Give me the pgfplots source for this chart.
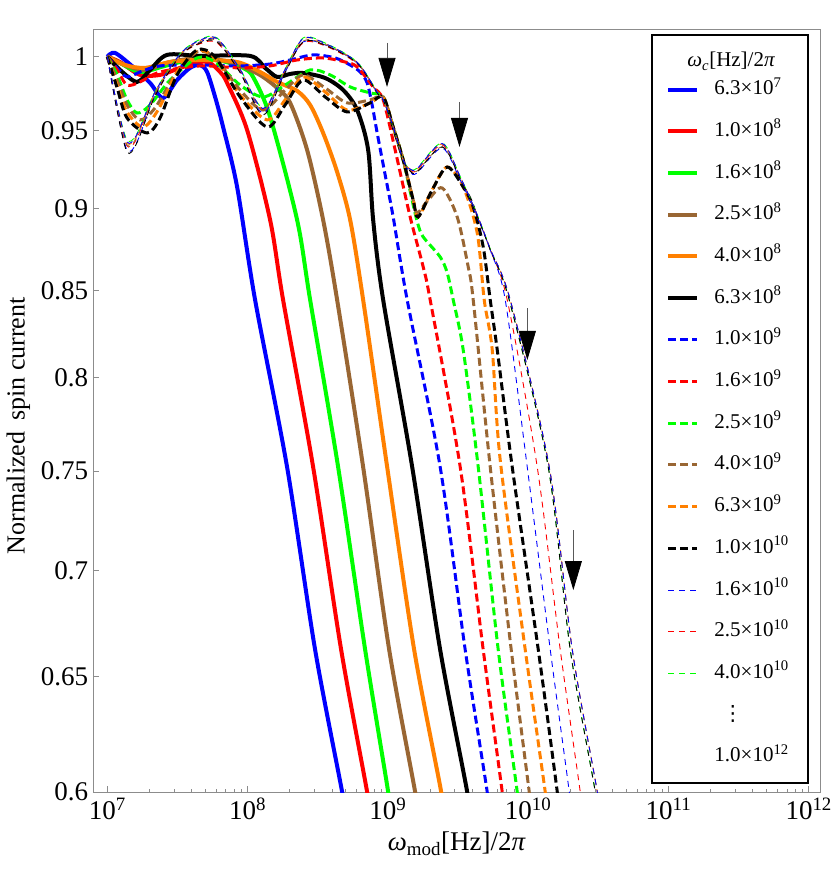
\documentclass[border=0pt]{standalone}
\usepackage{fontspec}
\setmainfont{Liberation Serif}
\newfontfamily\dejavu{DejaVu Sans}
\usepackage{pgfplots}
\pgfplotsset{compat=1.18}
\usetikzlibrary{arrows.meta}
\definecolor{mBlue}{rgb}{0,0,1}
\definecolor{mRed}{rgb}{1,0,0}
\definecolor{mGreen}{rgb}{0,1,0}
\definecolor{mBrown}{rgb}{0.6,0.4,0.2}
\definecolor{mOrange}{rgb}{1,0.5,0}
\pgfplotsset{
 thicksolid/.style={line width=4pt, solid, smooth, tension=0.5},
 thickdash/.style={line width=3pt, dash pattern=on 8pt off 4pt, smooth, tension=0.5},
 thindash/.style={line width=0.9pt, dash pattern=on 6pt off 5pt, smooth, tension=0.5},
}
\begin{document}
\begin{tikzpicture}
\begin{axis}[
 xmode=log, ymode=log,
 scale only axis, width=727pt, height=763pt,
 xmin=7.945e6, xmax=1.21e12,
 ymin=0.6, ymax=1.0194,
 axis line style={draw=gray!90, line width=0.8pt},
 tick style={draw=gray!90, line width=0.8pt},
 major tick length=6pt, minor tick length=3pt,
 tick align=inside, tick pos=left,
 xtick={1e7,1e8,1e9,1e10,1e11,1e12},
 xticklabels={10\textsuperscript{7},10\textsuperscript{8},10\textsuperscript{9},10\textsuperscript{10},10\textsuperscript{11},10\textsuperscript{12}},
 ytick={0.6,0.65,0.7,0.75,0.8,0.85,0.9,0.95,1},
 yticklabels={0.6,0.65,0.7,0.75,0.8,0.85,0.9,0.95,1},
 yminorticks=false,
 ticklabel style={font=\fontsize{27}{32}\selectfont, inner sep=0pt},
 yticklabel style={xshift=-5pt},
 xticklabel style={yshift=-6pt},
 every axis y label/.style={at={(axis description cs:-0.103,0.48)}, rotate=90, anchor=center},
 every axis x label/.style={at={(axis description cs:0.5,-0.068)}, anchor=center},
 ylabel={\fontsize{26}{30}\selectfont Normalized\, spin current},
 xlabel={\fontsize{27}{32}\selectfont \textit{ω}\textsubscript{mod}[Hz]/2\textit{π}},
 legend style={at={(rel axis cs:0.985,0.9935)}, anchor=north east, draw=black, line width=2pt, fill=white,
   font=\fontsize{21}{25}\selectfont, inner xsep=14pt, inner ysep=6pt, row sep=21.7pt, column sep=15pt,
   nodes={inner sep=0pt, text height=15pt, text depth=5pt, text width=80pt}},
 legend cell align=left,
 legend image code/.code={\draw[#1] (0pt,0pt) -- (29pt,0pt);},
]
\addlegendimage{empty legend}
\addlegendentry[text height=12pt]{\hspace*{-27pt}\raisebox{-14pt}[0pt][0pt]{\textit{ω}\textsubscript{\textit{c}}[Hz]/2\textit{π}}}

% 6.3e7
\addplot[thicksolid, mBlue] coordinates {(1e7,1) (1.135e7,1.0026) (1.525e7,0.9929) (2.017e7,0.9819) (2.497e7,0.9717) (3.142e7,0.9839) (3.889e7,0.9922) (4.584e7,0.9942) (5.142e7,0.9894) (5.865e7,0.9724) (6.688e7,0.9523) (8.417e7,0.9135) (1.131e8,0.8445) (1.912e8,0.7520) (3.03e8,0.6623) (4.721e8,0.6) (5.0e8,0.59)};
\addlegendentry{6.3×10\textsuperscript{7}}
% 1.0e8
\addplot[thicksolid, mRed] coordinates {(1e7,1) (1.232e7,0.9963) (1.711e7,0.9874) (2.376e7,0.9874) (3.300e7,0.9922) (4.584e7,0.9963) (5.401e7,0.9956) (6.368e7,0.9894) (7.142e7,0.9819) (9.917e7,0.9504) (1.447e8,0.8928) (1.791e8,0.8445) (2.933e8,0.7520) (4.645e8,0.6623) (7.117e8,0.6) (7.5e8,0.59)};
\addlegendentry{1.0×10\textsuperscript{8}}
% 1.6e8
\addplot[thicksolid, mGreen] coordinates {(1e7,1) (1.232e7,0.9956) (1.711e7,0.9894) (2.579e7,0.9936) (3.889e7,0.9977) (5.865e7,0.9977) (7.503e7,0.9956) (9.288e7,0.9922) (1.094e8,0.9860) (1.447e8,0.9590) (2.254e8,0.8928) (2.792e8,0.8445) (4.420e8,0.7520) (6.889e8,0.6623) (1.005e9,0.6) (1.05e9,0.59)};
\addlegendentry{1.6×10\textsuperscript{8}}
% 2.5e8
\addplot[thicksolid, mBrown] coordinates {(1e7,1) (1.337e7,0.9942) (1.857e7,0.9908) (2.801e7,0.9963) (4.584e7,0.9991) (7.503e7,0.9963) (1.042e8,0.9908) (1.290e8,0.9860) (1.623e8,0.9785) (2.010e8,0.9684) (2.657e8,0.9372) (3.455e8,0.8928) (4.348e8,0.8445) (6.665e8,0.7520) (1.022e9,0.6623) (1.565e9,0.6) (1.65e9,0.59)};
\addlegendentry{2.5×10\textsuperscript{8}}
% 4.0e8
\addplot[thicksolid, mOrange] coordinates {(1e7,1) (1.337e7,0.9942) (1.857e7,0.9922) (2.801e7,0.9963) (4.584e7,0.9977) (8.417e7,0.9963) (1.228e8,0.9894) (1.623e8,0.9826) (2.254e8,0.9765) (2.792e8,0.9670) (3.455e8,0.9484) (4.348e8,0.9230) (5.384e8,0.8928) (6.665e8,0.8445) (9.886e8,0.7520) (1.540e9,0.6623) (2.400e9,0.6) (2.5e9,0.59)};
\addlegendentry{4.0×10\textsuperscript{8}}
% 6.3e8
\addplot[thicksolid, black] coordinates {(1e7,1) (1.232e7,0.9908) (1.628e7,0.9826) (2.017e7,0.9908) (2.666e7,1.0012) (4.584e7,1.0005) (1.042e8,1.0005) (1.333e8,0.9922) (1.623e8,0.9860) (2.010e8,0.9881) (2.488e8,0.9887) (3.571e8,0.9853) (4.799e8,0.9771) (6.039e8,0.9636) (7.236e8,0.9372) (7.855e8,0.8928) (9.259e8,0.8445) (1.491e9,0.7520) (2.360e9,0.6623) (3.678e9,0.6) (3.8e9,0.59)};
\addlegendentry{6.3×10\textsuperscript{8}}
% 1.0e9
\addplot[thickdash, mBlue] coordinates {(1e7,1) (1.175e7,0.9922) (1.382e7,0.9860) (1.711e7,0.9894) (2.376e7,0.9936) (4.584e7,0.9942) (8.842e7,0.9936) (1.447e8,0.9949) (2.010e8,0.9977) (2.933e8,1.0012) (4.208e8,0.9991) (5.384e8,0.9942) (6.345e8,0.9894) (7.117e8,0.9819) (7.727e8,0.9670) (8.389e8,0.9484) (9.566e8,0.9211) (1.091e9,0.8946) (1.373e9,0.8445) (2.360e9,0.7520) (3.559e9,0.6623) (5.108e9,0.6) (5.3e9,0.59)};
\addlegendentry{1.0×10\textsuperscript{9}}
% 1.6e9
\addplot[thickdash, mRed] coordinates {(1e7,1) (1.175e7,0.9908) (1.382e7,0.9805) (1.711e7,0.9826) (2.376e7,0.9894) (4.584e7,0.9936) (8.842e7,0.9922) (1.447e8,0.9936) (2.254e8,0.9977) (3.455e8,0.9991) (4.959e8,0.9963) (6.039e8,0.9929) (7.855e8,0.9792) (9.259e8,0.9704) (1.127e9,0.9372) (1.442e9,0.8946) (1.786e9,0.8641) (2.003e9,0.8445) (3.279e9,0.7520) (4.783e9,0.6623) (6.536e9,0.6) (6.8e9,0.59)};
\addlegendentry{1.6×10\textsuperscript{9}}
% 2.5e9
\addplot[thickdash, mGreen] coordinates {(1e7,1) (1.175e7,0.9874) (1.382e7,0.9704) (1.628e7,0.9616) (2.017e7,0.9670) (2.801e7,0.9839) (4.364e7,0.9991) (5.865e7,0.9963) (8.842e7,0.9805) (1.290e8,0.9724) (1.851e8,0.9805) (2.792e8,0.9908) (3.876e8,0.9874) (5.384e8,0.9792) (7.476e8,0.9751) (9.259e8,0.9724) (1.091e9,0.9523) (1.285e9,0.9308) (1.515e9,0.9021) (1.644e9,0.8897) (1.786e9,0.8823) (2.360e9,0.8701) (2.648e9,0.8605) (2.923e9,0.8445) (3.444e9,0.8157) (4.407e9,0.7520) (6.120e9,0.6623) (8.360e9,0.6) (8.7e9,0.59)};
\addlegendentry{2.5×10\textsuperscript{9}}
% 4.0e9
\addplot[thickdash, mBrown] coordinates {(1e7,1) (1.175e7,0.9839) (1.382e7,0.9670) (1.711e7,0.9570) (2.189e7,0.9650) (3.040e7,0.9874) (4.364e7,1.0033) (5.865e7,0.9991) (8.842e7,0.9771) (1.290e8,0.9636) (1.851e8,0.9771) (2.488e8,0.9874) (3.571e8,0.9785) (5.125e8,0.9684) (7.476e8,0.9704) (9.259e8,0.9724) (1.091e9,0.9523) (1.285e9,0.9308) (1.515e9,0.9052) (1.618e9,0.8971) (1.939e9,0.9052) (2.440e9,0.9128) (3.121e9,0.8946) (3.739e9,0.8641) (4.059e9,0.8445) (5.367e9,0.7520) (7.578e9,0.6623) (1.018e10,0.6) (1.06e10,0.59)};
\addlegendentry{4.0×10\textsuperscript{9}}
% 6.3e9
\addplot[thickdash, mOrange] coordinates {(1e7,1) (1.175e7,0.9805) (1.382e7,0.9623) (1.797e7,0.9523) (2.299e7,0.9636) (3.142e7,0.9894) (4.364e7,1.0040) (5.865e7,0.9991) (8.842e7,0.9737) (1.378e8,0.9570) (1.851e8,0.9704) (2.488e8,0.9860) (3.571e8,0.9758) (5.125e8,0.9636) (7.476e8,0.9684) (9.259e8,0.9724) (1.091e9,0.9523) (1.285e9,0.9308) (1.515e9,0.9052) (1.644e9,0.8946) (2.070e9,0.9116) (2.648e9,0.9262) (3.444e9,0.9135) (4.335e9,0.8847) (4.863e9,0.8445) (5.546e9,0.8157) (6.324e9,0.7557) (9.535e9,0.6623) (1.324e10,0.6) (1.38e10,0.59)};
\addlegendentry{6.3×10\textsuperscript{9}}
% 1.0e10
\addplot[thickdash, black] coordinates {(1e7,1) (1.175e7,0.9785) (1.382e7,0.9583) (1.919e7,0.9484) (2.376e7,0.9583) (3.142e7,0.9874) (4.364e7,1.0047) (5.865e7,0.9998) (8.842e7,0.9724) (1.378e8,0.9523) (1.851e8,0.9670) (2.488e8,0.9839) (3.571e8,0.9724) (5.125e8,0.9623) (7.476e8,0.9684) (9.259e8,0.9724) (1.091e9,0.9523) (1.285e9,0.9308) (1.515e9,0.9052) (1.644e9,0.8946) (2.070e9,0.9116) (2.648e9,0.9262) (3.444e9,0.9135) (4.059e9,0.9009) (4.783e9,0.8762) (5.367e9,0.8445) (6.021e9,0.8157) (7.703e9,0.7520) (1.181e10,0.6623) (1.613e10,0.6) (1.67e10,0.59)};
\addlegendentry{1.0×10\textsuperscript{10}}
% 1.6e10
\addplot[thindash, mBlue] coordinates {(1e7,1) (1.175e7,0.9636) (1.382e7,0.9372) (1.628e7,0.9425) (2.189e7,0.9737) (3.300e7,1.0012) (4.584e7,1.0103) (6.061e7,1.0117) (8.842e7,0.9894) (1.290e8,0.9616) (1.851e8,0.9894) (2.488e8,1.0103) (3.571e8,1.0082) (6.039e8,0.9956) (8.389e8,0.9751) (9.259e8,0.9704) (1.091e9,0.9523) (1.285e9,0.9308) (1.442e9,0.9230) (1.618e9,0.9224) (2.440e9,0.9385) (3.279e9,0.9179) (4.335e9,0.8946) (5.367e9,0.8743) (6.866e9,0.8445) (9.854e9,0.7520) (1.438e10,0.6623) (1.965e10,0.6) (2.05e10,0.59)};
\addlegendentry{1.6×10\textsuperscript{10}}
% 2.5e10
\addplot[thindash, mRed] coordinates {(1e7,1) (1.175e7,0.9650) (1.382e7,0.9399) (1.628e7,0.9450) (2.189e7,0.9745) (3.300e7,1.0005) (4.584e7,1.0090) (6.061e7,1.0096) (8.842e7,0.9901) (1.290e8,0.9636) (1.851e8,0.9901) (2.488e8,1.0096) (3.571e8,1.0075) (6.039e8,0.9950) (8.389e8,0.9751) (9.259e8,0.9704) (1.091e9,0.9523) (1.285e9,0.9308) (1.442e9,0.9240) (1.618e9,0.9243) (2.440e9,0.9405) (3.279e9,0.9190) (4.335e9,0.8950) (5.367e9,0.8745) (7.095e9,0.8445) (1.161e10,0.7520) (1.694e10,0.6623) (2.352e10,0.6) (2.45e10,0.59)};
\addlegendentry{2.5×10\textsuperscript{10}}
% 4.0e10
\addplot[thindash, mGreen] coordinates {(1e7,1) (1.175e7,0.9670) (1.382e7,0.9438) (1.628e7,0.9480) (2.189e7,0.9760) (3.300e7,1.0020) (4.584e7,1.0120) (6.061e7,1.0131) (8.842e7,0.9915) (1.290e8,0.9650) (1.851e8,0.9915) (2.488e8,1.0131) (3.571e8,1.0095) (6.039e8,0.9963) (8.389e8,0.9758) (9.259e8,0.9704) (1.091e9,0.9523) (1.285e9,0.9308) (1.442e9,0.9250) (1.618e9,0.9256) (2.440e9,0.9418) (3.279e9,0.9200) (4.335e9,0.8960) (5.367e9,0.8750) (7.332e9,0.8445) (1.391e10,0.7520) (1.997e10,0.6623) (3.010e10,0.6) (3.1e10,0.59)};
\addlegendentry{4.0×10\textsuperscript{10}}
% further curves up to 1e12
\addplot[thindash, mBrown, forget plot] coordinates {(1e7,1) (1.175e7,0.9660) (1.382e7,0.9405) (1.628e7,0.9460) (2.189e7,0.9750) (3.300e7,1.0010) (4.584e7,1.0100) (6.061e7,1.0110) (8.842e7,0.9905) (1.290e8,0.9630) (1.851e8,0.9905) (2.488e8,1.0110) (3.571e8,1.0085) (6.039e8,0.9958) (8.389e8,0.9755) (9.259e8,0.9704) (1.091e9,0.9523) (1.285e9,0.9308) (1.442e9,0.9245) (1.618e9,0.9237) (2.440e9,0.9392) (3.279e9,0.9195) (4.335e9,0.8955) (5.367e9,0.8748) (7.453e9,0.8445) (1.414e10,0.7520) (2.064e10,0.6623) (3.111e10,0.6) (3.2e10,0.59)};
\addplot[thindash, mOrange, forget plot] coordinates {(1e7,1) (1.175e7,0.9665) (1.382e7,0.9418) (1.628e7,0.9470) (2.189e7,0.9755) (3.300e7,1.0015) (4.584e7,1.0112) (6.061e7,1.0124) (8.842e7,0.9910) (1.290e8,0.9643) (1.851e8,0.9910) (2.488e8,1.0124) (3.571e8,1.0090) (6.039e8,0.9960) (8.389e8,0.9756) (9.259e8,0.9704) (1.091e9,0.9523) (1.285e9,0.9308) (1.442e9,0.9248) (1.618e9,0.9249) (2.440e9,0.9411) (3.279e9,0.9198) (4.335e9,0.8958) (5.367e9,0.8749) (7.453e9,0.8445) (1.414e10,0.7520) (2.064e10,0.6623) (3.111e10,0.6) (3.2e10,0.59)};
\addplot[thindash, black, forget plot] coordinates {(1e7,1) (1.175e7,0.9630) (1.382e7,0.9359) (1.628e7,0.9420) (2.189e7,0.9730) (3.300e7,1.0005) (4.584e7,1.0095) (6.061e7,1.0103) (8.842e7,0.9890) (1.290e8,0.9603) (1.851e8,0.9890) (2.488e8,1.0103) (3.571e8,1.0080) (6.039e8,0.9955) (8.389e8,0.9751) (9.259e8,0.9704) (1.091e9,0.9523) (1.285e9,0.9308) (1.442e9,0.9235) (1.618e9,0.9230) (2.440e9,0.9392) (3.279e9,0.9185) (4.335e9,0.8950) (5.367e9,0.8745) (7.332e9,0.8445) (1.391e10,0.7520) (1.997e10,0.6623) (3.010e10,0.6) (3.1e10,0.59)};
\addplot[thindash, mBlue, forget plot] coordinates {(1e7,1) (1.175e7,0.9668) (1.382e7,0.9425) (1.628e7,0.9475) (2.189e7,0.9758) (3.300e7,1.0018) (4.584e7,1.0115) (6.061e7,1.0127) (8.842e7,0.9912) (1.290e8,0.9645) (1.851e8,0.9912) (2.488e8,1.0127) (3.571e8,1.0092) (6.039e8,0.9961) (8.389e8,0.9757) (9.259e8,0.9704) (1.091e9,0.9523) (1.285e9,0.9308) (1.442e9,0.9249) (1.618e9,0.9252) (2.440e9,0.9414) (3.279e9,0.9199) (4.335e9,0.8959) (5.367e9,0.8749) (7.453e9,0.8445) (1.414e10,0.7520) (2.064e10,0.6623) (3.111e10,0.6) (3.2e10,0.59)};

\addlegendimage{empty legend}
\addlegendentry{\hspace*{8pt}{\dejavu ⋮}}
\addlegendimage{empty legend}
\addlegendentry[text depth=15pt]{1.0×10\textsuperscript{12}}

% arrows
\addplot[forget plot, line width=0.8pt, gray!70!black, -{Triangle[length=29pt,width=17pt,color=black]}] coordinates {(9.86e8,1.0096) (9.86e8,0.9792)};
\addplot[forget plot, line width=0.8pt, gray!70!black, -{Triangle[length=29pt,width=17pt,color=black]}] coordinates {(3.24e9,0.9690) (3.24e9,0.9392)};
\addplot[forget plot, line width=0.8pt, gray!70!black, -{Triangle[length=29pt,width=17pt,color=black]}] coordinates {(9.87e9,0.8398) (9.87e9,0.8100)};
\addplot[forget plot, line width=0.8pt, gray!70!black, -{Triangle[length=29pt,width=17pt,color=black]}] coordinates {(2.1e10,0.7198) (2.1e10,0.6904)};
\end{axis}
\path ([shift={(-93.3pt,-79pt)}]current axis.south west) rectangle ([shift={(9.7pt,29pt)}]current axis.north east);
\end{tikzpicture}
\end{document}
